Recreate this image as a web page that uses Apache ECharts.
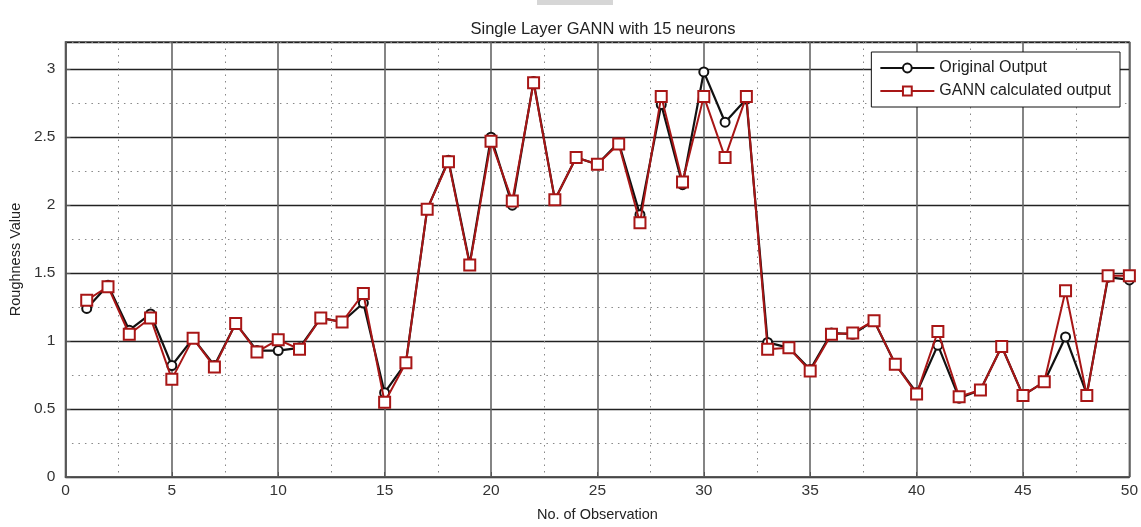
<!DOCTYPE html>
<html>
<head>
<meta charset="utf-8">
<title>Single Layer GANN with 15 neurons</title>
<script src="https://cdn.jsdelivr.net/npm/echarts@6/dist/echarts.min.js"></script>
<style>
  html, body { margin: 0; padding: 0; background: #ffffff; }
  #chart { width: 1141px; height: 527px; }
</style>
</head>
<body>
<div id="chart"></div>
<script>
// Observation index 1..50
const observations = Array.from({ length: 50 }, (_, i) => i + 1);

// Measured roughness
const originalOutput = [
  1.24, 1.41, 1.08, 1.20, 0.82, 1.02, 0.82, 1.13, 0.93, 0.93,
  0.95, 1.17, 1.14, 1.28, 0.62, 0.84, 1.97, 2.33, 1.57, 2.50,
  2.00, 2.91, 2.04, 2.35, 2.30, 2.46, 1.93, 2.74, 2.15, 2.98,
  2.61, 2.78, 0.99, 0.95, 0.79, 1.06, 1.05, 1.15, 0.83, 0.62,
  0.97, 0.58, 0.64, 0.96, 0.60, 0.70, 1.03, 0.61, 1.47, 1.45
];

// Roughness predicted by the GA-trained network
const gannOutput = [
  1.30, 1.40, 1.05, 1.17, 0.72, 1.02, 0.81, 1.13, 0.92, 1.01,
  0.94, 1.17, 1.14, 1.35, 0.55, 0.84, 1.97, 2.32, 1.56, 2.47,
  2.03, 2.90, 2.04, 2.35, 2.30, 2.45, 1.87, 2.80, 2.17, 2.80,
  2.35, 2.80, 0.94, 0.95, 0.78, 1.05, 1.06, 1.15, 0.83, 0.61,
  1.07, 0.59, 0.64, 0.96, 0.60, 0.70, 1.37, 0.60, 1.48, 1.48
];

const seriesNames = ['Original Output', 'GANN calculated output'];
const chartTitle = 'Single Layer GANN with 15 neurons';
const xName = 'No. of Observation';
const yName = 'Roughness Value';

const FONT = '"Liberation Sans", Arial, sans-serif';
const RED = '#a81616';

const chart = echarts.init(document.getElementById('chart'), null, { renderer: 'canvas' });

chart.setOption({
  backgroundColor: '#ffffff',
  animation: false,
  textStyle: { fontFamily: FONT },
  title: {
    text: chartTitle,
    left: 598,
    top: 16,
    textAlign: 'center',
    textStyle: { fontFamily: FONT, fontSize: 16.5, fontWeight: 'normal', color: '#222' }
  },
  graphic: [
    { type: 'rect', shape: { x: 537, y: 0, width: 76, height: 5 }, style: { fill: '#d6d6d6' } }
  ],
  legend: {
    data: seriesNames,
    orient: 'vertical',
    right: 21,
    top: 52,
    backgroundColor: '#ffffff',
    borderColor: '#111',
    borderWidth: 1,
    borderRadius: 0,
    padding: [8, 9, 8, 8],
    itemWidth: 54,
    itemHeight: 11,
    itemGap: 7,
    textStyle: { fontFamily: FONT, fontSize: 16, color: '#222' }
  },
  grid: {
    left: 64,
    right: 9,
    top: 42,
    bottom: 47,
    show: true,
    borderColor: '#555',
    borderWidth: 1.5,
    backgroundColor: '#ffffff'
  },
  xAxis: {
    type: 'value',
    min: 0,
    max: 50,
    interval: 5,
    name: xName,
    nameLocation: 'middle',
    nameGap: 30,
    nameTextStyle: { fontFamily: FONT, fontSize: 14.5, color: '#222' },
    axisLine: { show: true, onZero: false, lineStyle: { color: '#555', width: 1.5 } },
    axisTick: { show: true, inside: true, length: 5, lineStyle: { color: '#555' } },
    axisLabel: { fontFamily: FONT, fontSize: 15.5, color: '#333', margin: 6 },
    splitLine: { show: true, lineStyle: { color: '#666', width: 1.6 } },
    minorTick: { show: false, splitNumber: 2 },
    minorSplitLine: { show: true, lineStyle: { color: '#888', width: 1, type: [1.5, 5] } }
  },
  yAxis: [
    {
      type: 'value',
      min: 0,
      max: 3.2,
      interval: 0.5,
      name: yName,
      nameLocation: 'middle',
      nameGap: 42,
      nameTextStyle: { fontFamily: FONT, fontSize: 14.5, color: '#222' },
      axisLine: { show: true, lineStyle: { color: '#555', width: 1.5 } },
      axisTick: { show: true, inside: true, length: 5, lineStyle: { color: '#555' } },
      axisLabel: { fontFamily: FONT, fontSize: 15.5, color: '#333', margin: 10, showMaxLabel: false },
      splitLine: { show: true, lineStyle: { color: '#222', width: 1.3 } }
    },
    {
      // dotted quarter-step grid lines (every other line transparent)
      type: 'value',
      min: 0,
      max: 3.2,
      interval: 0.25,
      position: 'left',
      axisLine: { show: false },
      axisTick: { show: false },
      axisLabel: { show: false },
      splitLine: {
        show: true,
        lineStyle: { color: ['rgba(0,0,0,0)', '#888'], width: 1, type: [1.5, 5] }
      }
    }
  ],
  series: [
    {
      name: seriesNames[0],
      type: 'line',
      yAxisIndex: 0,
      data: observations.map((x, i) => [x, originalOutput[i]]),
      symbol: 'emptyCircle',
      symbolSize: 9,
      color: '#111',
      lineStyle: { color: '#111', width: 2.2 },
      itemStyle: { color: '#111', borderColor: '#111', borderWidth: 2 },
      z: 3
    },
    {
      name: seriesNames[1],
      type: 'line',
      yAxisIndex: 0,
      data: observations.map((x, i) => [x, gannOutput[i]]),
      symbol: 'emptyRect',
      symbolSize: 11,
      color: RED,
      lineStyle: { color: RED, width: 2 },
      itemStyle: { color: RED, borderColor: RED, borderWidth: 2.2 },
      z: 4
    }
  ]
});
</script>
</body>
</html>
